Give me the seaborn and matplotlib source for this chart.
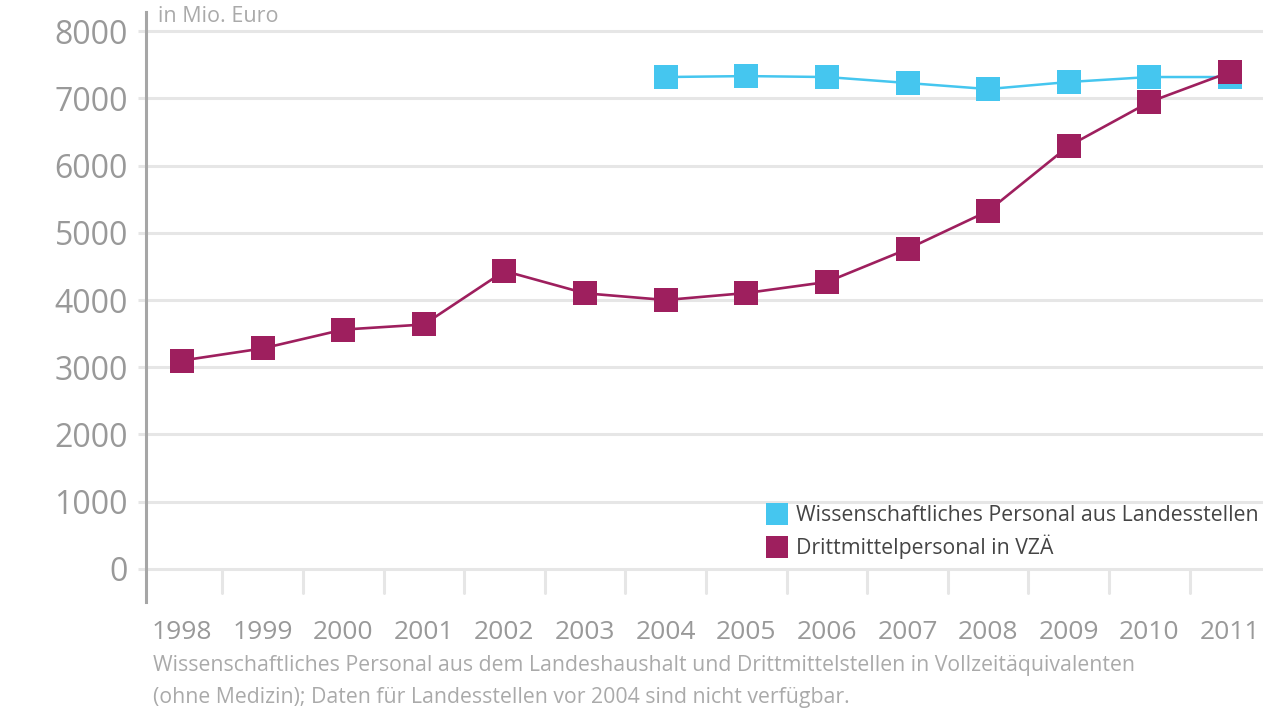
import numpy as np
import pandas as pd
import matplotlib.pyplot as plt
from matplotlib.lines import Line2D
import seaborn as sns

years = ["1998", "1999", "2000", "2001", "2002", "2003", "2004",
         "2005", "2006", "2007", "2008", "2009", "2010", "2011"]
landesstellen = [np.nan, np.nan, np.nan, np.nan, np.nan, np.nan, 7316,
                 7330, 7316, 7227, 7137, 7242, 7316, 7316]
drittmittel = [3100, 3280, 3560, 3636, 4431, 4100, 4000,
               4104, 4268, 4758, 5323, 6290, 6944, 7390]
series_names = ["Wissenschaftliches Personal aus Landesstellen",
                "Drittmittelpersonal in VZÄ"]

blue = "#45c6ef"
purple = "#9e1f5e"

sns.set_style("white")
plt.rcParams["font.family"] = ["Open Sans", "DejaVu Sans"]

df = pd.DataFrame({"pos": np.arange(len(years)),
                   "land": landesstellen,
                   "dritt": drittmittel})

fig = plt.figure(figsize=(12.63, 7.13), dpi=100)
ax = fig.add_axes([146 / 1263, 1 - 602 / 713, 1 - 146 / 1263, (602 - 12) / 713])

sns.lineplot(data=df.dropna(), x="pos", y="land", ax=ax, color=blue,
             marker="s", markersize=17, markeredgewidth=0, linewidth=1.8)
sns.lineplot(data=df, x="pos", y="dritt", ax=ax, color=purple,
             marker="s", markersize=17, markeredgewidth=0, linewidth=1.9)

ax.set_xlim(-0.447, 13.41)
ax.set_ylim(-491, 8283)
ax.set_yticks(range(0, 8001, 1000))
ax.set_xticks(df["pos"])
ax.set_xticklabels(years)
ax.set_xlabel("")
ax.set_ylabel("")

ax.grid(axis="y", color="#e6e6e6", linewidth=2.2, zorder=0)
ax.set_axisbelow(True)
# separators between years below the zero line
for b in np.arange(0.5, len(years) - 1, 1):
    ax.plot([b, b], [0, -357], color="#e6e6e6", linewidth=2.2, zorder=0)

for s in ["top", "right", "bottom"]:
    ax.spines[s].set_visible(False)
ax.spines["left"].set_color("#a6a6a6")
ax.spines["left"].set_linewidth(2.2)

ax.tick_params(axis="y", length=6, width=2.2, color="#e6e6e6", pad=7,
               labelsize=23, labelcolor="#999999", left=True)
ax.tick_params(axis="x", length=0, pad=13, labelsize=19, labelcolor="#999999")

handles = [Line2D([], [], linestyle="none", marker="s", markersize=16.5,
                  markeredgewidth=0, color=c) for c in (blue, purple)]
ax.legend(handles, series_names, loc="upper left",
          bbox_to_anchor=((768 - 146) / (1263 - 146), (602 - 505) / 590),
          frameon=False, fontsize=15.3, labelcolor="#444444",
          handlelength=0.85, handletextpad=0.45, labelspacing=0.42,
          borderaxespad=0, borderpad=0)

fig.text(158 / 1263, 1 - 16 / 713, "in Mio. Euro", fontsize=15.5,
         color="#aaaaaa", va="center", ha="left")
fig.text(153 / 1263, 1 - 665 / 713,
         "Wissenschaftliches Personal aus dem Landeshaushalt und Drittmittelstellen in Vollzeitäquivalenten",
         fontsize=15.3, color="#aaaaaa", va="center", ha="left")
fig.text(153 / 1263, 1 - 697 / 713,
         "(ohne Medizin); Daten für Landesstellen vor 2004 sind nicht verfügbar.",
         fontsize=15.3, color="#aaaaaa", va="center", ha="left")

fig.savefig("out.png", dpi=100)
